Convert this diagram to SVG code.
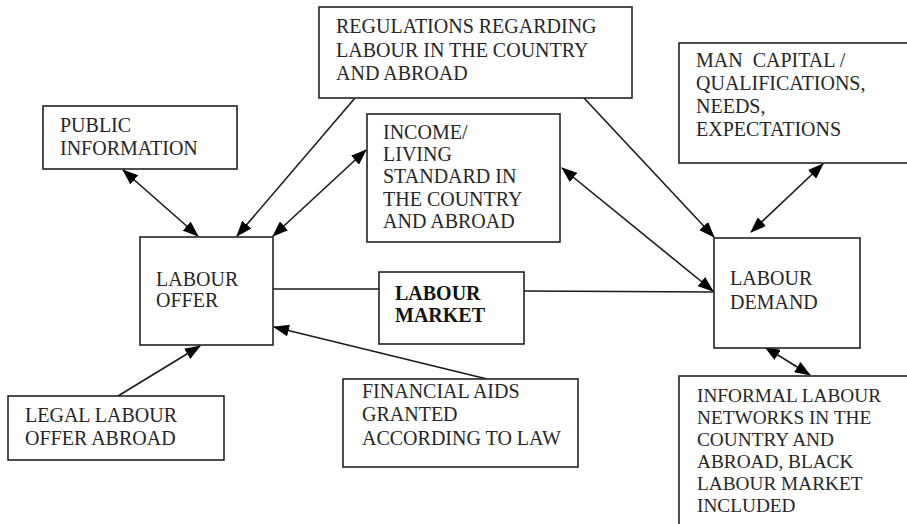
<svg xmlns="http://www.w3.org/2000/svg" width="907" height="524" viewBox="0 0 907 524">
  <style>
    .box { fill: #ffffff; stroke: #222222; stroke-width: 1.6; }
    .lbl { font-size: 20px; fill: #262626; white-space: pre; }
    .small { font-size: 19.3px; }
    .bold { font-weight: bold; fill: #111111; }
    .link { fill: none; stroke: #1a1a1a; stroke-width: 1.6; }
    .arr { marker-end: url(#head); }
    .both { marker-start: url(#head); marker-end: url(#head); }
  </style>
  <defs>
    <marker id="head" markerUnits="userSpaceOnUse" markerWidth="16" markerHeight="12" viewBox="0 0 16 12" refX="15" refY="6" orient="auto-start-reverse">
      <path d="M0,0 L16,6 L0,12 Z" fill="#000000"/>
    </marker>
  </defs>
  <rect width="907" height="524" fill="#ffffff"/>

  <!-- connectors -->
  <g id="connectors">
    <line class="link both" x1="123" y1="170" x2="198" y2="236"/>
    <line class="link arr" x1="355" y1="98" x2="237" y2="236"/>
    <line class="link both" x1="366" y1="150" x2="273" y2="236"/>
    <line class="link arr" x1="584" y1="98" x2="714" y2="237"/>
    <line class="link both" x1="562" y1="168" x2="713" y2="291"/>
    <line class="link both" x1="823" y1="164" x2="751" y2="232"/>
    <line class="link" x1="273" y1="289" x2="379" y2="289"/>
    <line class="link" x1="524" y1="291" x2="714" y2="292"/>
    <line class="link arr" x1="118" y1="396" x2="200" y2="346"/>
    <line class="link arr" x1="487" y1="379" x2="274" y2="327"/>
    <line class="link both" x1="810" y1="375" x2="765" y2="347"/>
  </g>

  <g font-family="'Liberation Serif', 'DejaVu Serif', serif">
  <g id="public-information">
    <rect class="box" x="43" y="106" width="194" height="63"/>
    <text class="lbl" x="60" y="132">PUBLIC</text>
    <text class="lbl" x="60" y="155">INFORMATION</text>
  </g>

  <g id="regulations">
    <rect class="box" x="319" y="7" width="313" height="91"/>
    <text class="lbl" x="336" y="33">REGULATIONS REGARDING</text>
    <text class="lbl" x="336" y="57">LABOUR IN THE COUNTRY</text>
    <text class="lbl" x="336" y="80">AND ABROAD</text>
  </g>

  <g id="man-capital">
    <rect class="box" x="679" y="43" width="240" height="120"/>
    <text class="lbl" x="696" y="67">MAN  CAPITAL /</text>
    <text class="lbl" x="696" y="90">QUALIFICATIONS,</text>
    <text class="lbl" x="696" y="113">NEEDS,</text>
    <text class="lbl" x="696" y="136">EXPECTATIONS</text>
  </g>

  <g id="income">
    <rect class="box" x="367" y="114" width="193" height="128"/>
    <text class="lbl" x="383" y="139">INCOME/</text>
    <text class="lbl" x="383" y="161">LIVING</text>
    <text class="lbl" x="383" y="183">STANDARD IN</text>
    <text class="lbl" x="383" y="206">THE COUNTRY</text>
    <text class="lbl" x="383" y="228">AND ABROAD</text>
  </g>

  <g id="labour-offer">
    <rect class="box" x="140" y="237" width="133" height="108"/>
    <text class="lbl" x="156" y="286">LABOUR</text>
    <text class="lbl" x="156" y="307">OFFER</text>
  </g>

  <g id="labour-market">
    <rect class="box" x="379" y="272" width="145" height="72"/>
    <text class="lbl bold" x="395" y="300">LABOUR</text>
    <text class="lbl bold" x="395" y="322">MARKET</text>
  </g>

  <g id="labour-demand">
    <rect class="box" x="714" y="238" width="146" height="110"/>
    <text class="lbl" x="730" y="285">LABOUR</text>
    <text class="lbl" x="730" y="309">DEMAND</text>
  </g>

  <g id="legal-offer-abroad">
    <rect class="box" x="8" y="396" width="216" height="64"/>
    <text class="lbl" x="25" y="422">LEGAL LABOUR</text>
    <text class="lbl" x="25" y="445">OFFER ABROAD</text>
  </g>

  <g id="financial-aids">
    <rect class="box" x="343" y="379" width="235" height="88"/>
    <text class="lbl" x="362" y="398">FINANCIAL AIDS</text>
    <text class="lbl" x="362" y="421">GRANTED</text>
    <text class="lbl" x="362" y="445">ACCORDING TO LAW</text>
  </g>

  <g id="informal-networks">
    <rect class="box" x="679" y="376" width="240" height="160"/>
    <text class="lbl small" x="697" y="402">INFORMAL LABOUR</text>
    <text class="lbl small" x="697" y="424">NETWORKS IN THE</text>
    <text class="lbl small" x="697" y="446">COUNTRY AND</text>
    <text class="lbl small" x="697" y="468">ABROAD, BLACK</text>
    <text class="lbl small" x="697" y="490">LABOUR MARKET</text>
    <text class="lbl small" x="697" y="512">INCLUDED</text>
  </g>
  </g>
</svg>
